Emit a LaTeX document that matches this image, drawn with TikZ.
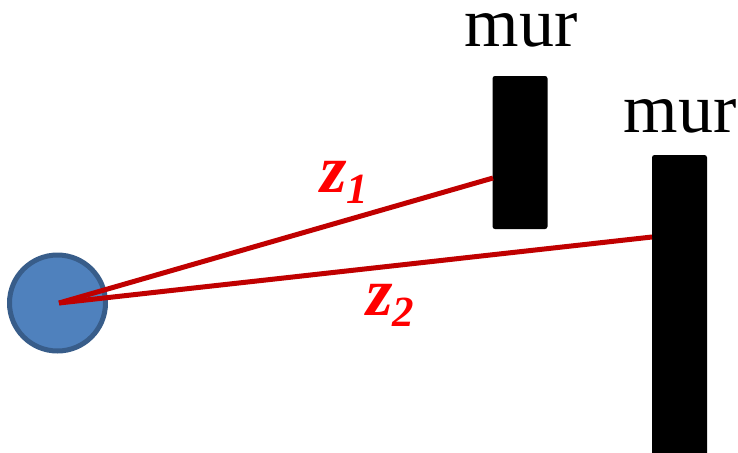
\documentclass[tikz,border=0pt]{standalone}
\usepackage{fontspec}
\setmainfont{Liberation Serif}
\usepackage{tikz}
\usetikzlibrary{arrows.meta}
\definecolor{srcfill}{HTML}{4F81BD}
\definecolor{srcedge}{HTML}{385D8A}
\definecolor{raycol}{HTML}{C00000}
\definecolor{zred}{HTML}{FF0000}
\tikzset{
  every picture/.style={line join=round, line cap=round, >=Stealth},
  source/.style={circle, fill=srcfill, draw=srcedge, line width=5pt, minimum size=96pt, inner sep=0pt},
  wall/.style={fill=black, rounded corners=2.5pt, minimum width=55pt, inner sep=0pt},
  ray/.style={raycol, line width=5pt, line cap=butt},
  murlbl/.style={anchor=base, inner sep=0pt, text height=0.48em, text depth=0pt, font=\fontsize{70}{70}\selectfont},
  zlbl/.style={anchor=base west, inner sep=0pt, text=zred, font=\fontsize{68}{68}\selectfont\bfseries\itshape},
}
\newcommand{\zsub}[1]{z\raisebox{-0.17em}{\fontsize{43}{43}\selectfont #1}}

\begin{document}
\begin{tikzpicture}[x=1pt,y=-1pt]
\useasboundingbox (0,0) rectangle (738,452);
\clip (0,0) rectangle (738,452);
\node[source] (src) at (57.5,303) {};
\node[wall, minimum height=153pt] (wall1) at (520,152.5) {};
\node[wall, minimum height=320pt] (wall2) at (679.5,315) {};
\node[murlbl] (mur1) at (521,47) {mur};
\node[murlbl] (mur2) at (680,132) {mur};
\coordinate (o) at (59,303);
\coordinate (hit1) at (493,178);
\coordinate (hit2) at (652,237);
\draw[ray] (o) -- (hit1);
\draw[ray] (o) -- (hit2);
\node[zlbl] (z1) at (320,192) {\zsub{1}};
\node[zlbl] (z2) at (366,315) {\zsub{2}};
\end{tikzpicture}
\end{document}
